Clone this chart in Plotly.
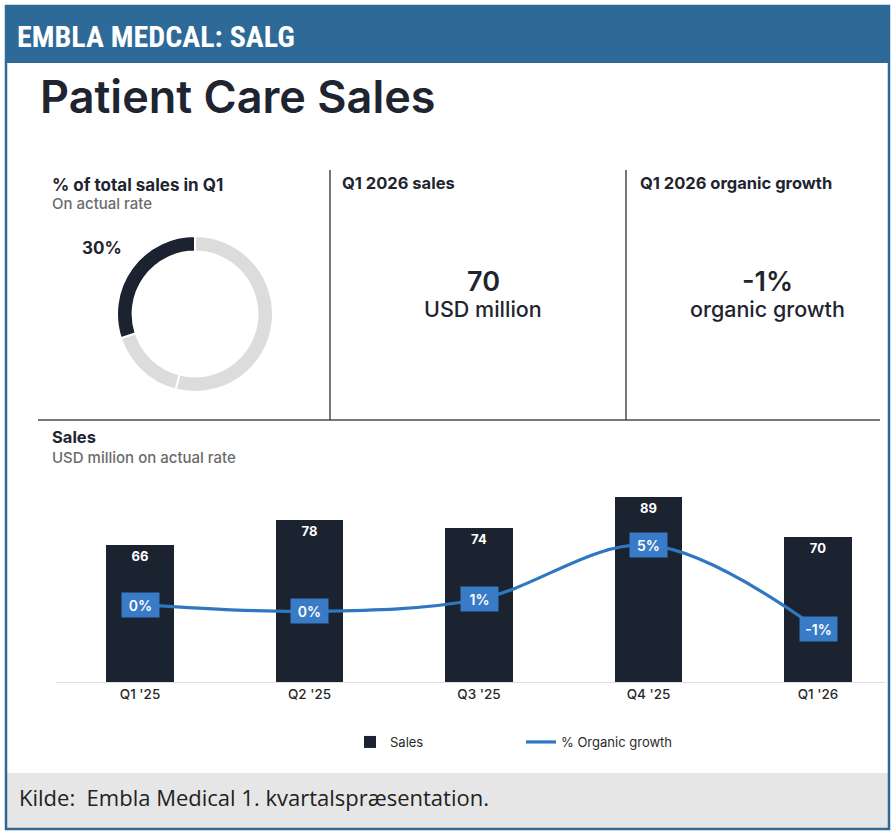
import plotly.graph_objects as go

W, H = 895, 835

# ---- data ----
quarters = ["Q1 '25", "Q2 '25", "Q3 '25", "Q4 '25", "Q1 '26"]
sales = [66, 78, 74, 89, 70]
growth = [0.4, -0.1, 0.8, 4.8, -1.4]
growth_labels = ["0%", "0%", "1%", "5%", "-1%"]
share_labels = ["Prosthetics & Neuro Orthotics", "Bracing & Supports", "Patient Care"]
share_values = [54, 16, 30]
share_colors = ["#dcdcdc", "#dcdcdc", "#1b2330"]

DARK = "#1b2330"
BLUE = "#2f77c0"
FONT = "Inter, Roboto, sans-serif"


def X(px):
    return px / W


def Y(py):
    return 1 - py / H


fig = go.Figure()

# Donut
fig.add_trace(go.Pie(
    labels=share_labels, values=share_values, sort=False, direction="clockwise",
    rotation=0, hole=0.8, marker=dict(colors=share_colors, line=dict(color="white", width=2)),
    textinfo="none", showlegend=False, hoverinfo="label+percent",
    domain=dict(x=[X(117), X(273)], y=[Y(392), Y(236)]),
))

# Bars
fig.add_trace(go.Bar(
    x=quarters, y=sales, name="Sales", marker=dict(color=DARK, line=dict(width=0)),
    width=0.40, text=[str(v) for v in sales], textposition="inside",
    insidetextanchor="end", textangle=0,
    textfont=dict(color="white", size=13, family=FONT, weight=700),
    xaxis="x", yaxis="y",
))

# Growth line
fig.add_trace(go.Scatter(
    x=quarters, y=growth, name="% Organic growth", mode="lines",
    line=dict(color=BLUE, width=3.2, shape="spline", smoothing=1.0),
    xaxis="x", yaxis="y2",
))

annotations = []
for q, g, lab in zip(quarters, growth, growth_labels):
    annotations.append(dict(
        x=q, y=g, xref="x", yref="y2", text=lab, showarrow=False,
        bgcolor="#3a7bc8", borderpad=0, width=37, height=24,
        font=dict(color="white", size=14, family=FONT, weight=600),
    ))


def txt(x, y, text, size, color="#1f2530", weight=400, xanchor="left", family=FONT):
    annotations.append(dict(
        x=X(x), y=Y(y), xref="paper", yref="paper", text=text, showarrow=False,
        xanchor=xanchor, yanchor="middle",
        font=dict(size=size, color=color, family=family, weight=weight),
    ))


txt(15, 36, "EMBLA MEDCAL: SALG", 30, color="white", weight=700,
    family="Roboto Condensed, Roboto, sans-serif")
txt(38, 96, "Patient Care Sales", 45, weight=600)
txt(50, 185, "% of total sales in Q1", 17, weight=700)
txt(50, 203, "On actual rate", 15, color="#6b6b6b", weight=500)
txt(102, 248, "30%", 17, weight=700, xanchor="center")
txt(340, 183, "Q1 2026 sales", 16.5, weight=700)
txt(483, 281, "70", 27, weight=600, xanchor="center")
txt(483, 309, "USD million", 21.5, weight=500, xanchor="center")
txt(638, 183, "Q1 2026 organic growth", 16.5, weight=700)
txt(767, 281, "-1%", 27, weight=600, xanchor="center")
txt(767, 309, "organic growth", 21.5, weight=500, xanchor="center")
txt(50, 437, "Sales", 16.5, weight=700)
txt(50, 457, "USD million on actual rate", 15, color="#6b6b6b", weight=500)
txt(17, 797, "Kilde:  Embla Medical 1. kvartalspræsentation.", 22, color="#222222",
    family="Open Sans, Noto Sans, sans-serif")

shapes = [
    dict(type="rect", xref="paper", yref="paper", x0=X(5), x1=X(890), y0=Y(63), y1=Y(5),
         fillcolor="#2d6a97", line=dict(width=0), layer="below"),
    dict(type="rect", xref="paper", yref="paper", x0=X(7), x1=X(888), y0=Y(828), y1=Y(773),
         fillcolor="#e6e6e6", line=dict(width=0), layer="below"),
    dict(type="rect", xref="paper", yref="paper", x0=X(6), x1=X(889), y0=Y(829), y1=Y(6),
         line=dict(color="#2d6a97", width=2.5)),
    dict(type="line", xref="paper", yref="paper", x0=X(330), x1=X(330), y0=Y(420), y1=Y(170),
         line=dict(color="#4a4a4a", width=1.5)),
    dict(type="line", xref="paper", yref="paper", x0=X(626), x1=X(626), y0=Y(420), y1=Y(170),
         line=dict(color="#4a4a4a", width=1.5)),
    dict(type="line", xref="paper", yref="paper", x0=X(38), x1=X(880), y0=Y(420), y1=Y(420),
         line=dict(color="#4a4a4a", width=1.5)),
]

x0_px, step = 140, 169.5
xl, xr = 56, 885
xrange = [(xl - x0_px) / step, (xr - x0_px) / step]
ytop, ybot = 470, 682
yscale = 2.078
g0, gscale = 610, 13.5

fig.update_layout(
    width=W, height=H, margin=dict(l=0, r=0, t=0, b=0),
    paper_bgcolor="white", plot_bgcolor="rgba(0,0,0,0)",
    shapes=shapes, annotations=annotations,
    bargap=0,
    xaxis=dict(domain=[X(xl), X(xr)], range=xrange, showgrid=False, zeroline=False,
               showline=True, linecolor="#dddddd", linewidth=1, ticks="",
               tickfont=dict(size=13.5, color="#2a2a2a", family=FONT, weight=500),
               fixedrange=True),
    yaxis=dict(domain=[Y(ybot), Y(ytop)], range=[0, (ybot - ytop) / yscale],
               visible=False, fixedrange=True),
    yaxis2=dict(domain=[Y(ybot), Y(ytop)], overlaying="y", anchor="x",
                range=[(g0 - ybot) / gscale, (g0 - ytop) / gscale],
                visible=False, fixedrange=True),
    legend=dict(orientation="h", x=X(350), xanchor="left", y=Y(742), yanchor="middle",
                font=dict(size=13, color="#2a2a2a", family=FONT), bgcolor="rgba(0,0,0,0)",
                entrywidth=126, entrywidthmode="pixels", traceorder="normal"),
)

fig.write_html("out.html", config={"displayModeBar": False},
               post_script="document.body.style.margin='0';document.body.style.overflow='hidden';")
